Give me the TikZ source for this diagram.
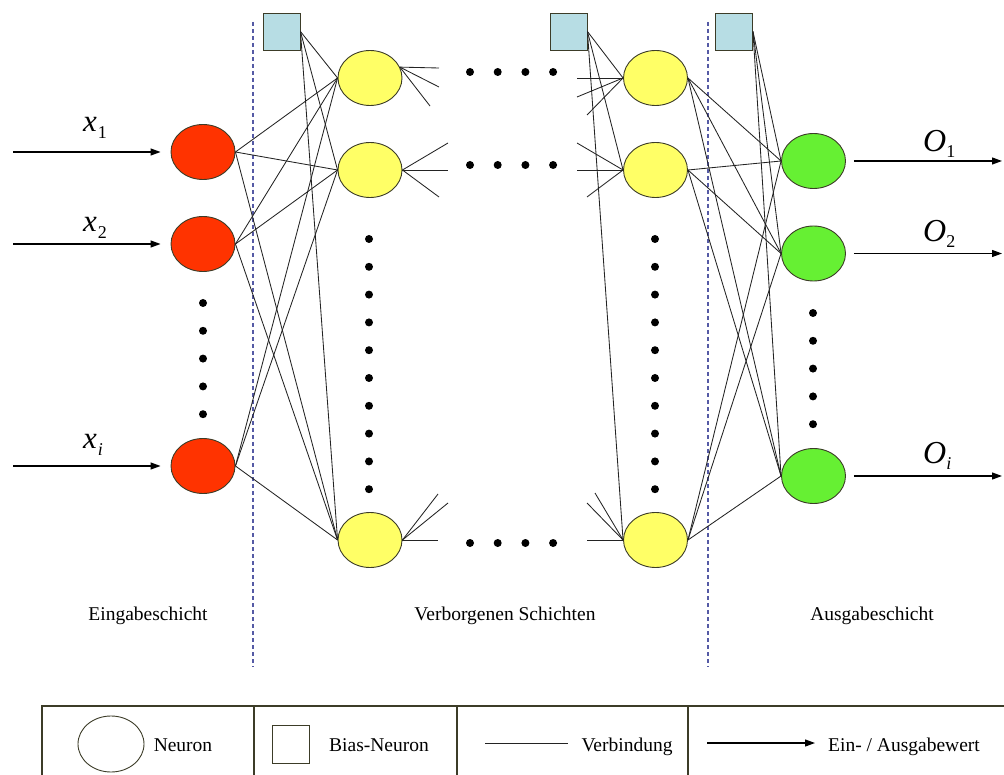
\documentclass[tikz,border=0pt]{standalone}
\usepackage{fontspec}
\setmainfont{Liberation Serif}
\usetikzlibrary{shapes.geometric,arrows.meta}

\definecolor{redn}{RGB}{255,51,0}
\definecolor{yellown}{RGB}{255,255,102}
\definecolor{greenn}{RGB}{102,240,51}
\definecolor{biasn}{RGB}{183,221,228}
\definecolor{rim}{RGB}{60,60,40}
\definecolor{wire}{RGB}{35,35,35}
\definecolor{sepline}{RGB}{85,90,165}

\begin{document}
\begin{tikzpicture}[x=1pt,y=-1pt,
  neuron/.style={ellipse,draw=rim,line width=0.9pt,minimum width=64pt,minimum height=55pt,inner sep=0pt},
  inp/.style={neuron,fill=redn},
  hid/.style={neuron,fill=yellown},
  outp/.style={neuron,fill=greenn},
  bias/.style={rectangle,draw=rim,line width=0.9pt,fill=biasn,minimum size=37pt,inner sep=0pt},
  conn/.style={draw=wire,line width=0.85pt},
  io/.style={draw=black,line width=1.2pt,-{Triangle[length=10pt,width=7pt]}},
  sep/.style={draw=sepline,line width=1.1pt,dash pattern=on 4pt off 3pt},
  lbl/.style={font=\fontsize{19.5}{22}\selectfont,inner sep=0pt,anchor=base},
  var/.style={font=\fontsize{31}{31}\selectfont\itshape,inner sep=0pt,anchor=base west},
  dot/.style={fill=black},
]
\useasboundingbox (0,0) rectangle (1004,775);

% layer separators
\draw[sep] (253,22) -- (253,667);
\draw[sep] (708,22) -- (708,667);

% input layer
\node[inp] (i1) at (203,152) {};
\node[inp] (i2) at (203,244) {};
\node[inp] (i3) at (203,466) {};

% bias neurons
\node[bias] (b1) at (281.5,31.5) {};
\node[bias] (b2) at (568.5,31.5) {};
\node[bias] (b3) at (734,31.5) {};

% hidden layers
\node[hid] (h1a) at (370,78) {};
\node[hid] (h1b) at (370,170) {};
\node[hid] (h1c) at (370,540) {};
\node[hid] (h2a) at (655.5,78) {};
\node[hid] (h2b) at (655.5,170) {};
\node[hid] (h2c) at (655.5,540) {};

% output layer
\node[outp] (o1) at (813.5,161) {};
\node[outp] (o2) at (813.5,253.5) {};
\node[outp] (o3) at (813.5,476) {};

% weighted connections
\foreach \a in {i1,i2,i3,b1}
  \foreach \b in {h1a,h1b,h1c}
    \draw[conn] (\a.east) -- (\b.west);
\foreach \b in {h2a,h2b,h2c}
  \draw[conn] (b2.east) -- (\b.west);
\foreach \a in {h2a,h2b,h2c,b3}
  \foreach \b in {o1,o2,o3}
    \draw[conn] (\a.east) -- (\b.west);

% open-ended connections towards the omitted hidden layers
\coordinate (s1) at (439,68);  \coordinate (s2) at (439,87);  \coordinate (s3) at (430,106);
\coordinate (s4) at (448,143); \coordinate (s5) at (448,170); \coordinate (s6) at (439,197);
\coordinate (s7) at (438,540); \coordinate (s8) at (438,494); \coordinate (s9) at (448,503);
\foreach \c in {s1,s2,s3} \draw[conn] (h1a.20) -- (\c);
\foreach \c in {s4,s5,s6} \draw[conn] (h1b.east) -- (\c);
\foreach \c in {s7,s8,s9} \draw[conn] (h1c.east) -- (\c);
\coordinate (t1) at (577,78);  \coordinate (t2) at (577,97);  \coordinate (t3) at (587,115);
\coordinate (t4) at (577,143); \coordinate (t5) at (577,170); \coordinate (t6) at (587,197);
\coordinate (t7) at (587,540); \coordinate (t8) at (587,503); \coordinate (t9) at (595,493);
\foreach \c in {t1,t2,t3} \draw[conn] (h2a.west) -- (\c);
\foreach \c in {t4,t5,t6} \draw[conn] (h2b.west) -- (\c);
\foreach \c in {t7,t8,t9} \draw[conn] (h2c.west) -- (\c);

% ellipsis dots
\foreach \k in {0,...,4} \fill[dot] (203,303+27.8*\k) circle (4);
\foreach \k in {0,...,4} \fill[dot] (813,313+27.8*\k) circle (4);
\foreach \k in {0,...,9} {
  \fill[dot] (369,239+27.8*\k) circle (4);
  \fill[dot] (655,239+27.8*\k) circle (4);
}
\foreach \y in {72,165,543}
  \foreach \k in {0,...,3}
    \fill[dot] (470+27.7*\k,\y) circle (4);

% input values
\coordinate (ax1) at (13,152);
\coordinate (ax2) at (13,244);
\coordinate (ax3) at (13,466);
\draw[io,shorten >=10pt] (ax1) -- (i1.west);
\draw[io,shorten >=10pt] (ax2) -- (i2.west);
\draw[io,shorten >=10pt] (ax3) -- (i3.west);
\node[var] (lx1) at (83,132) {x\kern1pt\raisebox{-7pt}{\fontsize{18}{18}\selectfont\upshape 1}};
\node[var] (lx2) at (83,232) {x\kern1pt\raisebox{-7pt}{\fontsize{18}{18}\selectfont\upshape 2}};
\node[var] (lx3) at (83,448) {x\kern1pt\raisebox{-7pt}{\fontsize{18}{18}\selectfont i}};

% output values
\coordinate (ay1) at (1002,161);
\coordinate (ay2) at (1002,253.5);
\coordinate (ay3) at (1002,476);
\draw[io,shorten <=8pt] (o1.east) -- (ay1);
\draw[io,shorten <=8pt] (o2.east) -- (ay2);
\draw[io,shorten <=8pt] (o3.east) -- (ay3);
\node[var,font=\fontsize{32}{32}\selectfont\itshape] (lo1) at (923,152) {O\raisebox{-6pt}{\fontsize{18}{18}\selectfont\upshape 1}};
\node[var,font=\fontsize{32}{32}\selectfont\itshape] (lo2) at (923,242) {O\raisebox{-6pt}{\fontsize{18}{18}\selectfont\upshape 2}};
\node[var,font=\fontsize{32}{32}\selectfont\itshape] (lo3) at (923,463) {O\raisebox{-6pt}{\fontsize{18}{18}\selectfont i}};

% layer captions
\node[lbl] (c1) at (148,620) {Eingabeschicht};
\node[lbl] (c2) at (505,620) {Verborgenen Schichten};
\node[lbl] (c3) at (872,620) {Ausgabeschicht};

% legend
\draw[draw=rim,line width=1.1pt] (42,706) rectangle (1012,790);
\draw[draw=rim,line width=1.1pt] (254,706) -- (254,790);
\draw[draw=rim,line width=1.1pt] (457,706) -- (457,790);
\draw[draw=rim,line width=1.1pt] (688,706) -- (688,790);
\node[ellipse,draw=rim,line width=0.9pt,minimum width=66pt,minimum height=56pt,inner sep=0pt] (lg1) at (111,744) {};
\node[lbl] (lt1) at (183,751) {Neuron};
\node[rectangle,draw=rim,line width=0.9pt,minimum width=37pt,minimum height=38pt,inner sep=0pt] (lg2) at (290.5,744) {};
\node[lbl] (lt2) at (379,751) {Bias-Neuron};
\coordinate (lg3a) at (485,743);
\coordinate (lg3b) at (568,743);
\draw[conn] (lg3a) -- (lg3b);
\node[lbl] (lt3) at (627,751) {Verbindung};
\coordinate (lg4a) at (707,743);
\coordinate (lg4b) at (815,743);
\draw[io] (lg4a) -- (lg4b);
\node[lbl] (lt4) at (904,751) {Ein- / Ausgabewert};
\end{tikzpicture}
\end{document}
